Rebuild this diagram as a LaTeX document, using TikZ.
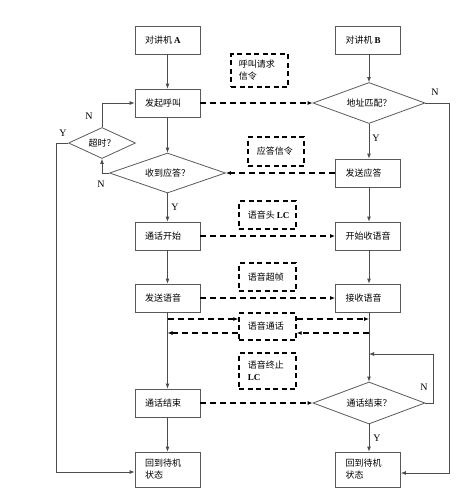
\documentclass[tikz,border=0pt]{standalone}
\usepackage{fontspec}
\setmainfont{Liberation Serif}
\newfontfamily\cjk{Noto Sans CJK SC}
\newcommand{\latb}[1]{{\normalfont\bfseries #1}}
\usetikzlibrary{shapes.geometric,arrows.meta}
\tikzset{
  proc/.style={draw=black!65, line width=0.8pt, rectangle, minimum width=65pt, minimum height=28pt, inner sep=0pt},
  note/.style={draw=black, line width=1.3pt, dash pattern=on 5pt off 3.5pt, rectangle, inner sep=0pt},
  flow/.style={draw=black!70, line width=0.8pt, -{Latex[length=5pt,width=4pt]}},
  sig/.style={draw=black, line width=1.3pt, dash pattern=on 6pt off 4pt, -{Latex[length=5pt,width=4pt]}},
  lbl/.style={font=\cjk\fontsize{9}{12}\selectfont, anchor=west},
  dtext/.style={font=\cjk\fontsize{9}{12}\selectfont},
  yn/.style={font=\fontsize{10}{12}\selectfont}
}
\begin{document}
\begin{tikzpicture}[x=1pt,y=-1pt]
\useasboundingbox (0,0) rectangle (464,504);
% left column boxes
\node[proc] (A) at (167.5,40) {};
\node[lbl] at (A.west) [xshift=7pt] {对讲机 \latb{A}};
\node[proc] (call) at (167.5,103) {};
\node[lbl] at (call.west) [xshift=7pt] {发起呼叫};
\node[draw=black!65, line width=0.8pt, diamond, minimum width=116pt, minimum height=40pt, inner sep=0pt] (recv) at (167.5,173) {};
\node[dtext] at (recv) {收到应答？};
\node[draw=black!65, line width=0.8pt, diamond, minimum width=67pt, minimum height=31pt, inner sep=0pt] (to) at (102,143) {};
\node[dtext] at (to) {超时？};
\node[proc] (start) at (167.5,236) {};
\node[lbl] at (start.west) [xshift=7pt] {通话开始};
\node[proc] (send) at (167.5,298) {};
\node[lbl] at (send.west) [xshift=7pt] {发送语音};
\node[proc] (endA) at (167.5,403) {};
\node[lbl] at (endA.west) [xshift=7pt] {通话结束};
\node[proc, minimum height=35pt] (idleA) at (167.5,469.5) {};
\node[lbl, align=left] at (idleA.west) [xshift=7pt] {回到待机\\状态};
% right column
\node[proc] (B) at (368,40) {};
\node[lbl] at (B.west) [xshift=7pt] {对讲机 \latb{B}};
\node[draw=black!65, line width=0.8pt, diamond, minimum width=112pt, minimum height=41pt, inner sep=0pt] (addr) at (369,103) {};
\node[dtext] at (addr) {地址匹配？};
\node[proc] (ans) at (368,173) {};
\node[lbl] at (ans.west) [xshift=7pt] {发送应答};
\node[proc] (rstart) at (368,236) {};
\node[lbl] at (rstart.west) [xshift=7pt] {开始收语音};
\node[proc] (rcv) at (368,298) {};
\node[lbl] at (rcv.west) [xshift=7pt] {接收语音};
\node[draw=black!65, line width=0.8pt, diamond, minimum width=112pt, minimum height=42pt, inner sep=0pt] (endq) at (369,403) {};
\node[dtext] at (endq) {通话结束？};
\node[proc, minimum height=35pt] (idleB) at (368,469.5) {};
\node[lbl, align=left] at (idleB.west) [xshift=7pt] {回到待机\\状态};
% notes
\node[note, minimum width=57pt, minimum height=33pt] (n1) at (259.5,70.5) {};
\node[lbl, align=left] at (n1.west) [xshift=5pt] {呼叫请求\\信令};
\node[note, minimum width=56pt, minimum height=29pt] (n2) at (276,151.5) {};
\node[lbl] at (n2.west) [xshift=6pt] {应答信令};
\node[note, minimum width=57pt, minimum height=28pt] (n3) at (267.5,215) {};
\node[lbl] at (n3.west) [xshift=6pt] {语音头 \latb{LC}};
\node[note, minimum width=57pt, minimum height=28pt] (n4) at (267.5,277) {};
\node[lbl] at (n4.west) [xshift=6pt] {语音超帧};
\node[note, minimum width=57pt, minimum height=27pt] (n5) at (267.5,326.5) {};
\node[lbl] at (n5.west) [xshift=6pt] {语音通话};
\node[note, minimum width=57pt, minimum height=36pt] (n6) at (267.5,371) {};
\node[lbl, align=left] at (n6.west) [xshift=6pt] {语音终止\\\latb{LC}};
% left flows
\draw[flow] (A) -- (call);
\draw[flow] (call) -- (recv.north);
\draw[flow] (recv.south) -- (start);
\node[yn] at (175,207) {Y};
\draw[flow] (start) -- (send);
\draw[flow] (send) -- (endA);
\draw[flow] (endA) -- (idleA);
\coordinate (c1) at (102,173);
\draw[flow] (recv.west) -- (c1) -- (to.south);
\node[yn] at (101,184) {N};
\draw[flow] (to.north) |- (call.west);
\node[yn] at (89,116) {N};
\coordinate (c2) at (56,143);
\coordinate (c3) at (56,472);
\draw[flow] (to.west) -- (c2) -- (c3) -- (c3 -| idleA.west);
\node[yn] at (63,133) {Y};
% right flows
\draw[flow] (B.south -| addr.north) -- (addr.north);
\draw[flow] (addr.south) -- (ans.north -| addr.south);
\node[yn] at (376,138) {Y};
\draw[flow] (ans.south -| addr.south) -- (rstart.north -| addr.south);
\draw[flow] (rstart.south -| addr.south) -- (rcv.north -| addr.south);
\draw[flow] (rcv.south -| addr.south) -- (endq.north);
\draw[flow] (endq.south) -- (idleB.north -| endq.south);
\node[yn] at (377,438) {Y};
\coordinate (c4) at (449,103);
\coordinate (c5) at (449,473);
\draw[flow] (addr.east) -- (c4) -- (c5) -- (c5 -| idleB.east);
\node[yn] at (435,92) {N};
\coordinate (c6) at (433,403);
\coordinate (c7) at (433,354);
\coordinate (c8) at (369,354);
\draw[flow] (endq.east) -- (c6) -- (c7) -- (c8);
\node[yn] at (424,387) {N};
% signals
\draw[sig] (call.east) -- (addr.west);
\draw[sig] (ans.west) -- (recv.east);
\draw[sig] (start.east) -- (rstart.west);
\draw[sig] (send.east) -- (rcv.west);
\draw[sig] (endA.east) -- (endq.west);
\coordinate (v1) at (167.5,319);
\coordinate (v2) at (369,319);
\coordinate (v3) at (369,333);
\coordinate (v4) at (167.5,333);
\draw[sig] (v1) -- (v1 -| n5.west);
\draw[sig] (v1 -| n5.east) -- (v2);
\draw[sig] (v3) -- (v3 -| n5.east);
\draw[sig] (v3 -| n5.west) -- (v4);
\end{tikzpicture}
\end{document}
